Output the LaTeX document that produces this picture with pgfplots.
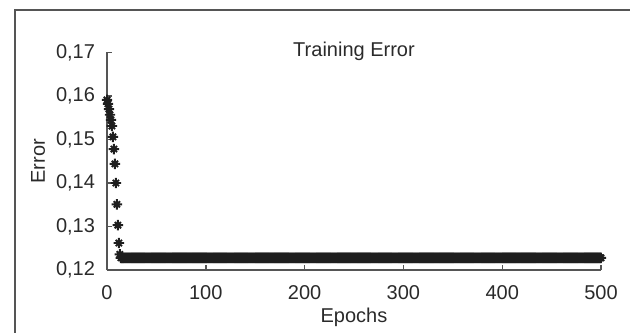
\documentclass[border=0pt]{standalone}
\usepackage{fontspec}
\setmainfont{Liberation Sans}
\usepackage{pgfplots}
\pgfplotsset{compat=1.18}
\definecolor{axisgray}{HTML}{555555}
\definecolor{txt}{HTML}{2A2A2A}
\definecolor{markc}{HTML}{1E1E1E}
\pgfdeclareplotmark{mstar}{%
 \pgfpathmoveto{\pgfpoint{-\pgfplotmarksize}{0pt}}\pgfpathlineto{\pgfpoint{\pgfplotmarksize}{0pt}}%
 \pgfpathmoveto{\pgfpoint{0pt}{-\pgfplotmarksize}}\pgfpathlineto{\pgfpoint{0pt}{\pgfplotmarksize}}%
 \pgfpathmoveto{\pgfpoint{-.6\pgfplotmarksize}{-.6\pgfplotmarksize}}\pgfpathlineto{\pgfpoint{.6\pgfplotmarksize}{.6\pgfplotmarksize}}%
 \pgfpathmoveto{\pgfpoint{-.6\pgfplotmarksize}{.6\pgfplotmarksize}}\pgfpathlineto{\pgfpoint{.6\pgfplotmarksize}{-.6\pgfplotmarksize}}%
 \pgfusepathqstroke}
\begin{document}
\begin{tikzpicture}
\useasboundingbox (0,0) rectangle (315pt,166pt);
\draw[line width=0.9pt, color=axisgray] (7.5pt,-2pt) -- (7.5pt,161pt) -- (317pt,161pt);
\begin{axis}[
  at={(53.5pt,31pt)}, anchor=south west,
  scale only axis, width=247pt, height=108.75pt,
  xmin=0, xmax=500, ymin=0.12, ymax=0.17,
  axis x line=bottom, axis y line=left,
  axis line style={-, draw=axisgray, line width=0.7pt},
  xtick={0,100,200,300,400,500},
  ytick={0.12,0.13,0.14,0.15,0.16,0.17},
  tick align=inside, major tick length=2.5pt,
  tick style={axisgray, line width=0.7pt},
  /pgf/number format/assume math mode=true,
  yticklabel style={/pgf/number format/fixed, /pgf/number format/fixed zerofill, /pgf/number format/precision=2, /pgf/number format/use comma},
  yticklabel style={xshift=-2.5pt, text=txt},
  xticklabel style={yshift=-4pt, text=txt},
  title=Training Error,
  every axis title/.style={at={(axis description cs:0.5,1)}, anchor=center, text=txt, yshift=0.5pt},
  xlabel=Epochs, ylabel=Error,
  every axis x label/.style={at={(axis description cs:0.5,0)}, anchor=center, yshift=-23.5pt, text=txt},
  every axis y label/.style={at={(axis description cs:0,0.5)}, anchor=center, rotate=90, yshift=34.5pt, text=txt},
  clip=false,
]
\addplot[only marks, mark=mstar, mark size=2.6pt, color=markc, line width=0.95pt] coordinates {
(0,0.1591)(1,0.1582)(2,0.1570)(3,0.1557)(4,0.1545)(5,0.1531)(6,0.1506)(7,0.1478)(8,0.1444)(9,0.1400)(10,0.1351)(11,0.1303)(12,0.1262)(13,0.1236)
(14,0.1228)(16,0.1228)(18,0.1228)(20,0.1228)(22,0.1228)(24,0.1228)(26,0.1228)(28,0.1228)(30,0.1228)(32,0.1228)
(34,0.1228)(36,0.1228)(38,0.1228)(40,0.1228)(42,0.1228)(44,0.1228)(46,0.1228)(48,0.1228)(50,0.1228)(52,0.1228)
(54,0.1228)(56,0.1228)(58,0.1228)(60,0.1228)(62,0.1228)(64,0.1228)(66,0.1228)(68,0.1228)(70,0.1228)(72,0.1228)
(74,0.1228)(76,0.1228)(78,0.1228)(80,0.1228)(82,0.1228)(84,0.1228)(86,0.1228)(88,0.1228)(90,0.1228)(92,0.1228)
(94,0.1228)(96,0.1228)(98,0.1228)(100,0.1228)(102,0.1228)(104,0.1228)(106,0.1228)(108,0.1228)(110,0.1228)(112,0.1228)
(114,0.1228)(116,0.1228)(118,0.1228)(120,0.1228)(122,0.1228)(124,0.1228)(126,0.1228)(128,0.1228)(130,0.1228)(132,0.1228)
(134,0.1228)(136,0.1228)(138,0.1228)(140,0.1228)(142,0.1228)(144,0.1228)(146,0.1228)(148,0.1228)(150,0.1228)(152,0.1228)
(154,0.1228)(156,0.1228)(158,0.1228)(160,0.1228)(162,0.1228)(164,0.1228)(166,0.1228)(168,0.1228)(170,0.1228)(172,0.1228)
(174,0.1228)(176,0.1228)(178,0.1228)(180,0.1228)(182,0.1228)(184,0.1228)(186,0.1228)(188,0.1228)(190,0.1228)(192,0.1228)
(194,0.1228)(196,0.1228)(198,0.1228)(200,0.1228)(202,0.1228)(204,0.1228)(206,0.1228)(208,0.1228)(210,0.1228)(212,0.1228)
(214,0.1228)(216,0.1228)(218,0.1228)(220,0.1228)(222,0.1228)(224,0.1228)(226,0.1228)(228,0.1228)(230,0.1228)(232,0.1228)
(234,0.1228)(236,0.1228)(238,0.1228)(240,0.1228)(242,0.1228)(244,0.1228)(246,0.1228)(248,0.1228)(250,0.1228)(252,0.1228)
(254,0.1228)(256,0.1228)(258,0.1228)(260,0.1228)(262,0.1228)(264,0.1228)(266,0.1228)(268,0.1228)(270,0.1228)(272,0.1228)
(274,0.1228)(276,0.1228)(278,0.1228)(280,0.1228)(282,0.1228)(284,0.1228)(286,0.1228)(288,0.1228)(290,0.1228)(292,0.1228)
(294,0.1228)(296,0.1228)(298,0.1228)(300,0.1228)(302,0.1228)(304,0.1228)(306,0.1228)(308,0.1228)(310,0.1228)(312,0.1228)
(314,0.1228)(316,0.1228)(318,0.1228)(320,0.1228)(322,0.1228)(324,0.1228)(326,0.1228)(328,0.1228)(330,0.1228)(332,0.1228)
(334,0.1228)(336,0.1228)(338,0.1228)(340,0.1228)(342,0.1228)(344,0.1228)(346,0.1228)(348,0.1228)(350,0.1228)(352,0.1228)
(354,0.1228)(356,0.1228)(358,0.1228)(360,0.1228)(362,0.1228)(364,0.1228)(366,0.1228)(368,0.1228)(370,0.1228)(372,0.1228)
(374,0.1228)(376,0.1228)(378,0.1228)(380,0.1228)(382,0.1228)(384,0.1228)(386,0.1228)(388,0.1228)(390,0.1228)(392,0.1228)
(394,0.1228)(396,0.1228)(398,0.1228)(400,0.1228)(402,0.1228)(404,0.1228)(406,0.1228)(408,0.1228)(410,0.1228)(412,0.1228)
(414,0.1228)(416,0.1228)(418,0.1228)(420,0.1228)(422,0.1228)(424,0.1228)(426,0.1228)(428,0.1228)(430,0.1228)(432,0.1228)
(434,0.1228)(436,0.1228)(438,0.1228)(440,0.1228)(442,0.1228)(444,0.1228)(446,0.1228)(448,0.1228)(450,0.1228)(452,0.1228)
(454,0.1228)(456,0.1228)(458,0.1228)(460,0.1228)(462,0.1228)(464,0.1228)(466,0.1228)(468,0.1228)(470,0.1228)(472,0.1228)
(474,0.1228)(476,0.1228)(478,0.1228)(480,0.1228)(482,0.1228)(484,0.1228)(486,0.1228)(488,0.1228)(490,0.1228)(492,0.1228)
(494,0.1228)(496,0.1228)(498,0.1228)(500,0.1228)
(15,0.1228)(17,0.1228)(19,0.1228)(21,0.1228)(23,0.1228)(25,0.1228)(27,0.1228)(29,0.1228)(31,0.1228)(33,0.1228)
(35,0.1228)(37,0.1228)(39,0.1228)(41,0.1228)(43,0.1228)(45,0.1228)(47,0.1228)(49,0.1228)(51,0.1228)(53,0.1228)
(55,0.1228)(57,0.1228)(59,0.1228)(61,0.1228)(63,0.1228)(65,0.1228)(67,0.1228)(69,0.1228)(71,0.1228)(73,0.1228)
(75,0.1228)(77,0.1228)(79,0.1228)(81,0.1228)(83,0.1228)(85,0.1228)(87,0.1228)(89,0.1228)(91,0.1228)(93,0.1228)
(95,0.1228)(97,0.1228)(99,0.1228)(101,0.1228)(103,0.1228)(105,0.1228)(107,0.1228)(109,0.1228)(111,0.1228)(113,0.1228)
(115,0.1228)(117,0.1228)(119,0.1228)(121,0.1228)(123,0.1228)(125,0.1228)(127,0.1228)(129,0.1228)(131,0.1228)(133,0.1228)
(135,0.1228)(137,0.1228)(139,0.1228)(141,0.1228)(143,0.1228)(145,0.1228)(147,0.1228)(149,0.1228)(151,0.1228)(153,0.1228)
(155,0.1228)(157,0.1228)(159,0.1228)(161,0.1228)(163,0.1228)(165,0.1228)(167,0.1228)(169,0.1228)(171,0.1228)(173,0.1228)
(175,0.1228)(177,0.1228)(179,0.1228)(181,0.1228)(183,0.1228)(185,0.1228)(187,0.1228)(189,0.1228)(191,0.1228)(193,0.1228)
(195,0.1228)(197,0.1228)(199,0.1228)(201,0.1228)(203,0.1228)(205,0.1228)(207,0.1228)(209,0.1228)(211,0.1228)(213,0.1228)
(215,0.1228)(217,0.1228)(219,0.1228)(221,0.1228)(223,0.1228)(225,0.1228)(227,0.1228)(229,0.1228)(231,0.1228)(233,0.1228)
(235,0.1228)(237,0.1228)(239,0.1228)(241,0.1228)(243,0.1228)(245,0.1228)(247,0.1228)(249,0.1228)(251,0.1228)(253,0.1228)
(255,0.1228)(257,0.1228)(259,0.1228)(261,0.1228)(263,0.1228)(265,0.1228)(267,0.1228)(269,0.1228)(271,0.1228)(273,0.1228)
(275,0.1228)(277,0.1228)(279,0.1228)(281,0.1228)(283,0.1228)(285,0.1228)(287,0.1228)(289,0.1228)(291,0.1228)(293,0.1228)
(295,0.1228)(297,0.1228)(299,0.1228)(301,0.1228)(303,0.1228)(305,0.1228)(307,0.1228)(309,0.1228)(311,0.1228)(313,0.1228)
(315,0.1228)(317,0.1228)(319,0.1228)(321,0.1228)(323,0.1228)(325,0.1228)(327,0.1228)(329,0.1228)(331,0.1228)(333,0.1228)
(335,0.1228)(337,0.1228)(339,0.1228)(341,0.1228)(343,0.1228)(345,0.1228)(347,0.1228)(349,0.1228)(351,0.1228)(353,0.1228)
(355,0.1228)(357,0.1228)(359,0.1228)(361,0.1228)(363,0.1228)(365,0.1228)(367,0.1228)(369,0.1228)(371,0.1228)(373,0.1228)
(375,0.1228)(377,0.1228)(379,0.1228)(381,0.1228)(383,0.1228)(385,0.1228)(387,0.1228)(389,0.1228)(391,0.1228)(393,0.1228)
(395,0.1228)(397,0.1228)(399,0.1228)(401,0.1228)(403,0.1228)(405,0.1228)(407,0.1228)(409,0.1228)(411,0.1228)(413,0.1228)
(415,0.1228)(417,0.1228)(419,0.1228)(421,0.1228)(423,0.1228)(425,0.1228)(427,0.1228)(429,0.1228)(431,0.1228)(433,0.1228)
(435,0.1228)(437,0.1228)(439,0.1228)(441,0.1228)(443,0.1228)(445,0.1228)(447,0.1228)(449,0.1228)(451,0.1228)(453,0.1228)
(455,0.1228)(457,0.1228)(459,0.1228)(461,0.1228)(463,0.1228)(465,0.1228)(467,0.1228)(469,0.1228)(471,0.1228)(473,0.1228)
(475,0.1228)(477,0.1228)(479,0.1228)(481,0.1228)(483,0.1228)(485,0.1228)(487,0.1228)(489,0.1228)(491,0.1228)(493,0.1228)
(495,0.1228)(497,0.1228)(499,0.1228)
};
\end{axis}
\end{tikzpicture}
\end{document}
